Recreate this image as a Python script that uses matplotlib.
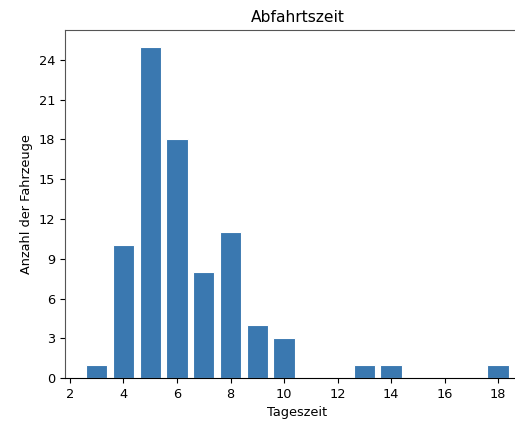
import matplotlib
matplotlib.use("Agg")
import matplotlib.pyplot as plt

# Tageszeit (Stunde) und Anzahl der Fahrzeuge
stunden = [3, 4, 5, 6, 7, 8, 9, 10, 13, 14, 18]
anzahl = [1, 10, 25, 18, 8, 11, 4, 3, 1, 1, 1]

plt.rcParams["font.size"] = 9.3

fig = plt.figure(figsize=(5.15, 4.22), dpi=100)
ax = fig.add_axes([0.126, 0.104, 0.903, 0.825])

ax.bar(stunden, anzahl, width=0.8, color="#3a78b0", edgecolor="white", linewidth=0.8)

ax.set_xlim(1.81, 19.19)
ax.set_ylim(0, 26.25)
ax.set_xticks(range(2, 20, 2))
ax.set_yticks(range(0, 25, 3))

ax.set_title("Abfahrtszeit", fontsize=11.2)
ax.set_xlabel("Tageszeit")
ax.set_ylabel("Anzahl der Fahrzeuge")

for side in ["left", "top", "right"]:
    ax.spines[side].set_color("#555555")

fig.savefig("out.png", dpi=100)
